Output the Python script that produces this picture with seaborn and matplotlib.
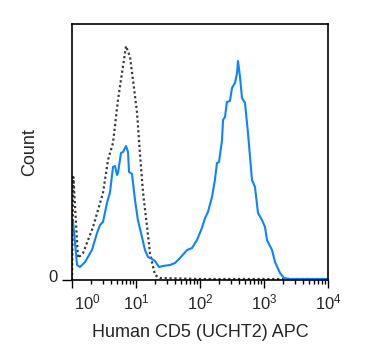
import numpy as np
import pandas as pd
import matplotlib
matplotlib.use("Agg")
import matplotlib.pyplot as plt
import matplotlib.transforms as mtransforms
from matplotlib.ticker import LogLocator, NullFormatter
import seaborn as sns

# isotype control (dotted grey)
ctrl_x = [1.0, 1.05, 1.24, 1.49, 2.13, 3.05, 3.65, 4.37, 5.23, 6.04, 6.98, 8.06,
          8.98, 10.4, 11.5, 12.9, 14.9, 16.5, 19.8, 23.7, 100, 10000]
ctrl_y = [0, 103, 22, 27, 53, 87, 120, 137, 180, 207, 234, 223,
          200, 167, 127, 87, 53, 27, 5, 2, 1, 1]

# CD5 stained (blue)
cd5_x = [1.04, 1.2, 1.33, 1.6, 2.05, 2.46, 2.74, 3.05, 3.52, 3.93, 4.37, 4.7,
         5.05, 5.23, 5.83, 6.27, 6.98, 7.5, 7.78, 8.66, 9.65, 10.7, 12.4, 13.8,
         15.4, 17.8, 19.8, 22.9, 26.4, 34, 40.7, 48.7, 62.7, 75, 89.8, 107,
         120, 133, 154, 171, 184, 198, 221, 229, 246, 263, 294, 316, 352, 379,
         392, 422, 453, 505, 562, 649, 723, 806, 930, 1037, 1114, 1334, 1486,
         1778, 2054, 2548, 10000]
cd5_y = [58, 15, 13, 18, 30, 47, 55, 58, 77, 88, 113, 114,
         105, 107, 127, 128, 134, 128, 108, 106, 80, 60, 43, 30,
         23, 21, 19, 13, 14, 15, 17, 22, 30, 32, 40, 52,
         62, 68, 83, 100, 117, 118, 140, 160, 163, 178, 179, 192, 197, 207,
         219, 203, 182, 177, 147, 100, 93, 67, 60, 53, 40, 30, 18,
         7, 2, 1, 1]

decades = [1, 10, 100, 1000, 10000]
decade_labels = [r"$\mathregular{10^{%d}}$" % i for i in range(5)]

sns.set_style("ticks")
plt.rcParams['font.family'] = ['Liberation Sans', 'DejaVu Sans']
plt.rcParams['mathtext.fontset'] = 'custom'
plt.rcParams['mathtext.rm'] = 'Liberation Sans'

fig = plt.figure(figsize=(3.75, 3.61), dpi=100)
ax = fig.add_axes([72 / 375, 1 - 280 / 361, 256 / 375, 256 / 361])

ctrl = pd.DataFrame({"x": ctrl_x, "y": ctrl_y})
cd5 = pd.DataFrame({"x": cd5_x, "y": cd5_y})

sns.lineplot(data=ctrl, x="x", y="y", ax=ax, sort=False, color="#3a3a3a",
             linestyle=(0, (1, 1.2)), linewidth=1.6)
sns.lineplot(data=cd5, x="x", y="y", ax=ax, sort=False, color="#0a84ff",
             linewidth=1.5)

ax.set_xscale("log")
ax.set_xlim(1, 10000)
ax.set_ylim(0, 256)

ax.set_xticks(decades)
ax.set_xticklabels(decade_labels, fontsize=12)
ax.xaxis.set_minor_locator(LogLocator(base=10, subs=np.arange(2, 10)))
ax.xaxis.set_minor_formatter(NullFormatter())
ax.tick_params(axis="x", which="major", length=6, width=1, pad=3, color="black")
ax.tick_params(axis="x", which="minor", length=3, width=1, color="black")
# first label sits to the right of the axis corner
first = ax.get_xticklabels()[0]
first.set_transform(first.get_transform() +
                    mtransforms.ScaledTranslation(15 / 100, 0, fig.dpi_scale_trans))

ax.set_yticks([0])
ax.set_yticklabels(["0"], fontsize=12)
ax.tick_params(axis="y", length=7, width=1, pad=3, color="black")
zero = ax.get_yticklabels()[0]
zero.set_transform(zero.get_transform() +
                   mtransforms.ScaledTranslation(0, 4 / 100, fig.dpi_scale_trans))

for s in ax.spines.values():
    s.set_linewidth(1.2)
    s.set_color("black")

ax.set_xlabel("Human CD5 (UCHT2) APC", fontsize=13, labelpad=8)
ax.set_ylabel("Count", fontsize=13, labelpad=8)

fig.savefig("out.png", dpi=100)
